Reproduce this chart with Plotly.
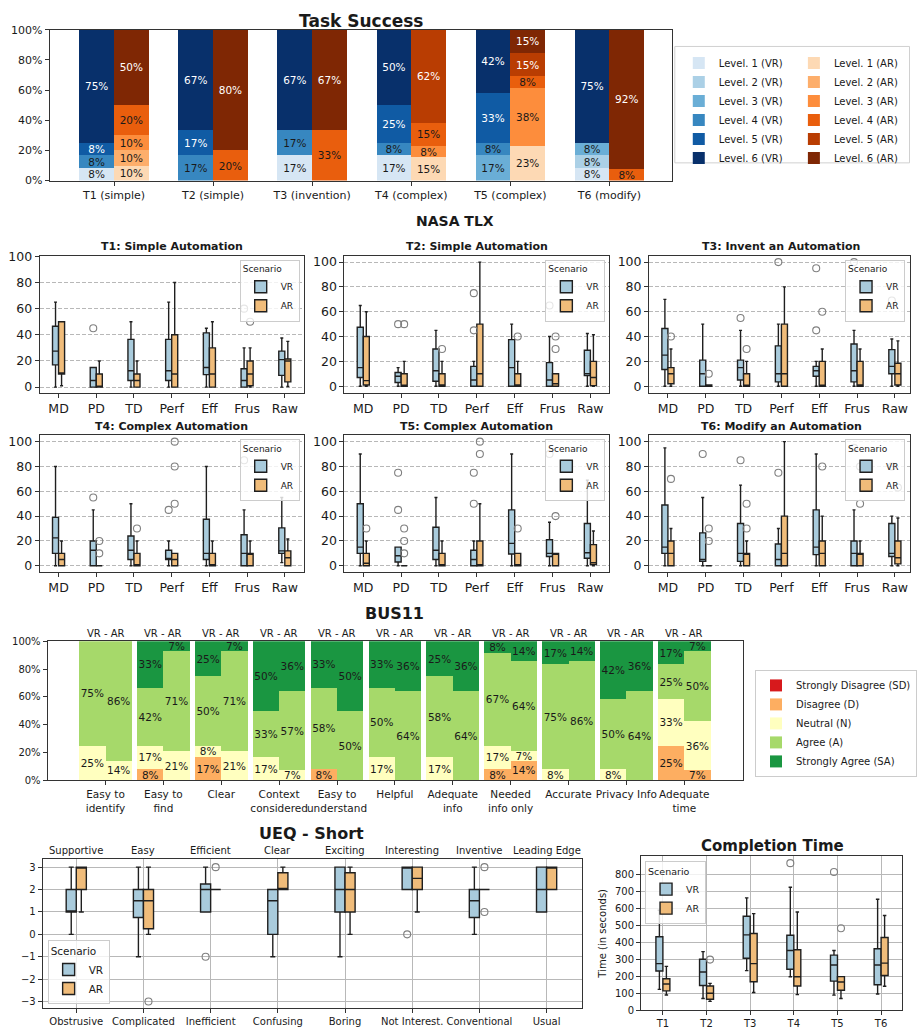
import plotly.graph_objects as go

W, H = 917, 1036
FONT = "DejaVu Sans"
TXT = "#1a1a1a"
SPINE = "#333333"

def px(x):
    return x / W

def py(y):
    return 1 - y / H

def dom_x(a, b):
    return [px(a), min(1.0, px(b))]

def dom_y(top, bottom):
    return [py(bottom), py(top)]

# ---------------- Task Success ----------------
ts_tasks = ["T1 (simple)", "T2 (simple)", "T3 (invention)", "T4 (complex)", "T5 (complex)", "T6 (modify)"]
ts_vr_total = [12, 12, 12, 12, 12, 12]
ts_ar_total = [10, 10, 3, 13, 13, 13]
# counts per level (Level 1 .. Level 6), one value per task
ts_vr_counts = [
    [1, 0, 2, 2, 0, 1],
    [0, 0, 0, 0, 0, 1],
    [0, 0, 0, 0, 2, 1],
    [1, 2, 2, 1, 1, 0],
    [1, 2, 0, 3, 4, 0],
    [9, 8, 8, 6, 5, 9],
]
ts_ar_counts = [
    [1, 0, 0, 2, 3, 0],
    [1, 0, 0, 0, 0, 0],
    [1, 0, 0, 1, 5, 0],
    [2, 2, 1, 2, 1, 1],
    [0, 0, 0, 8, 2, 0],
    [5, 8, 2, 0, 2, 12],
]
ts_blues = ["#d6e6f4", "#abd0e6", "#6aaed6", "#3787c0", "#105ba4", "#08306b"]
ts_oranges = ["#fdd9b4", "#fdae6b", "#fd8d3c", "#e95e0d", "#b93d02", "#7f2704"]
pct_ticks = [0, 20, 40, 60, 80, 100]

# ---------------- NASA TLX ----------------
tlx_cats = ["MD", "PD", "TD", "Perf", "Eff", "Frus", "Raw"]
tlx_titles = ["T1: Simple Automation", "T2: Simple Automation", "T3: Invent an Automation",
              "T4: Complex Automation", "T5: Complex Automation", "T6: Modify an Automation"]
tlx_vr_lo = [
    [0, 0, 0, 0, 0, 0, 0],
    [0, 0, 0, 0, 0, 0, 0],
    [0, 0, 0, 0, 0, 0, 0],
    [0, 0, 0, 0, 0, 0, 2.5],
    [0, 0, 0, 0, 0, 0, 0],
    [0, 0, 0, 0, 0, 0, 0],
]
tlx_vr_q1 = [
    [17, 0, 5, 5, 9.5, 0, 9],
    [7, 3, 4, 0, 0, 0, 8.5],
    [13.5, 0, 5, 3.5, 8, 3.5, 10],
    [10, 0, 5, 5, 5, 0, 10],
    [10, 3, 5, 0, 9.5, 7.5, 6],
    [10, 3.5, 3.5, 0, 9, 0, 7.5],
]
tlx_vr_med = [
    [27.5, 5, 12.5, 12.5, 15, 5, 21],
    [15, 8, 12.5, 5, 15, 5, 10],
    [25, 10, 15, 10, 12.5, 12.5, 16],
    [22.5, 12.5, 12.5, 5, 10, 10, 12],
    [15, 8, 12.5, 5, 18, 10, 10.5],
    [15, 5, 10, 5, 15, 10, 10],
]
tlx_vr_q3 = [
    [46.5, 15, 36.5, 36.5, 41.5, 14, 27.5],
    [47.5, 11, 30, 16, 37.5, 19, 29],
    [46.5, 21, 21, 32.5, 16, 34, 29.5],
    [39, 20, 24, 12.5, 37.5, 25, 30.5],
    [50, 15, 31, 12.5, 45, 21, 34],
    [49, 26.5, 34, 17.5, 45, 20, 34],
]
tlx_vr_hi = [
    [65, 15, 50, 65, 45, 30, 37.5],
    [65, 15, 45, 20, 50, 40, 42.5],
    [70, 50, 45, 50, 20, 45, 38],
    [80, 45, 50, 20, 80, 45, 55],
    [90, 15, 55, 20, 90, 35, 69],
    [95, 55, 65, 30, 90, 45, 40],
]
tlx_vr_out = [
    [[], [45], [], [], [], [60], []],
    [[], [50], [], [75, 45], [], [65], []],
    [[], [], [55], [100], [95, 45], [100], [69]],
    [[], [55], [], [45], [], [85], []],
    [[], [75, 45], [], [75, 50], [], [90], []],
    [[], [90], [85], [75], [], [95], [80]],
]
tlx_ar_lo = [
    [1, 0, 0, 0, 0, 0, 0.5],
    [0, 0, 0, 0, 0, 0, 0],
    [0, 0, 0, 0, 0, 0, 0],
    [0, 0, 0, 0, 0, 0, 0],
    [0, 0, 0, 0, 0, 0, 0],
    [0, 0, 0, 0, 0, 0, 0],
]
tlx_ar_q1 = [
    [10, 0, 0, 0, 0, 1, 4],
    [1, 0, 0, 0, 0, 0, 0.5],
    [2, 0, 0, 0, 0, 0, 1],
    [0, 0, 0, 0, 0, 0, 0],
    [0, 0, 0, 0, 0, 0, 1],
    [0, 0, 0, 0, 0, 0, 1.5],
]
tlx_ar_med = [
    [10, 0, 5, 10, 10, 10, 20],
    [4.5, 0, 1, 10, 1, 2, 7],
    [10, 0.5, 0, 10, 0, 1, 10],
    [5, 0, 0, 5, 0, 10, 6.5],
    [2, 0, 0, 0, 0, 10, 2.5],
    [10, 0, 10, 10, 10, 10, 6.5],
]
tlx_ar_q3 = [
    [50, 10, 10, 40, 30, 20, 21.5],
    [40, 10, 10, 50, 10, 10, 20],
    [15, 1, 10, 50, 20, 20, 18.5],
    [10, 0, 10, 10, 10, 10, 12],
    [10, 0, 10, 20, 10, 10, 17],
    [20, 0, 10, 40, 20, 10, 20],
]
tlx_ar_hi = [
    [50, 20, 20, 80, 50, 30, 35],
    [60, 20, 20, 100, 20, 10, 41.5],
    [30, 1, 20, 80, 30, 30, 36.5],
    [20, 0, 20, 10, 20, 20, 21.5],
    [20, 0, 20, 50, 10, 10, 28],
    [30, 0, 20, 100, 40, 20, 38.5],
]
tlx_ar_out = [
    [[], [], [], [], [], [50], []],
    [[], [50], [30], [], [40], [40, 30], []],
    [[40], [10], [30], [], [60], [], []],
    [[], [20, 10], [30], [100, 80, 50], [], [], []],
    [[30], [30, 20, 10], [], [100, 90], [30], [40], []],
    [[70], [30, 20], [50, 30], [], [80], [80, 50], [63]],
]

# ---------------- BUS11 ----------------
bus_items = ["Easy to<br>identify", "Easy to<br>find", "Clear", "Context<br>considered", "Easy to<br>understand",
             "Helpful", "Adequate<br>info", "Needed<br>info only", "Accurate", "Privacy Info", "Adequate<br>time"]
bus_levels = ["Strongly Disagree (SD)", "Disagree (D)", "Neutral (N)", "Agree (A)", "Strongly Agree (SA)"]
bus_colors = ["#d7191c", "#fdae61", "#ffffbf", "#a6d96a", "#1a9641"]
bus_vr_total = 12
bus_ar_total = 14
bus_vr_counts = [
    [0, 0, 0, 0, 0, 0, 0, 0, 0, 0, 0],
    [0, 1, 2, 0, 1, 0, 0, 1, 0, 0, 3],
    [3, 2, 1, 2, 0, 2, 2, 2, 1, 1, 4],
    [9, 5, 6, 4, 7, 6, 7, 8, 9, 6, 3],
    [0, 4, 3, 6, 4, 4, 3, 1, 2, 5, 2],
]
bus_ar_counts = [
    [0, 0, 0, 0, 0, 0, 0, 0, 0, 0, 0],
    [0, 0, 0, 0, 0, 0, 0, 2, 0, 0, 1],
    [2, 3, 3, 1, 0, 0, 0, 1, 0, 0, 5],
    [12, 10, 10, 8, 7, 9, 9, 9, 12, 9, 7],
    [0, 1, 1, 5, 7, 5, 5, 2, 2, 5, 1],
]

# ---------------- UEQ - Short ----------------
ueq_top = ["Supportive", "Easy", "Efficient", "Clear", "Exciting", "Interesting", "Inventive", "Leading Edge"]
ueq_bottom = ["Obstrusive", "Complicated", "Inefficient", "Confusing", "Boring", "Not Interest.", "Conventional", "Usual"]
ueq_vr_lo = [0, -1, 1, -1, -1, 2, 0, 1]
ueq_vr_q1 = [1, 0.75, 1, 0, 1, 2, 0.75, 1]
ueq_vr_med = [1, 1.5, 2, 1.5, 2, 3, 1.5, 2]
ueq_vr_q3 = [2, 2, 2.25, 2, 3, 3, 2, 3]
ueq_vr_hi = [3, 3, 3, 2, 3, 3, 3, 3]
ueq_vr_out = [[], [], [-1], [], [], [0], [], []]
ueq_ar_lo = [1, 0, 2, 2, 0, 1, 2, 2]
ueq_ar_q1 = [2, 0.25, 2, 2, 1, 2, 2, 2]
ueq_ar_med = [3, 1.5, 2, 2, 2, 2.5, 2, 3]
ueq_ar_q3 = [3, 2, 2, 2.75, 2.75, 3, 2, 3]
ueq_ar_hi = [3, 3, 2, 3, 3, 3, 2, 3]
ueq_ar_out = [[], [-3], [3], [], [], [], [3, 1], []]

# ---------------- Completion Time ----------------
ct_tasks = ["T1", "T2", "T3", "T4", "T5", "T6"]
ct_vr_lo = [123, 69, 233, 197, 89, 96]
ct_vr_q1 = [231, 146, 306, 241, 171, 150]
ct_vr_med = [274, 225, 443, 351, 266, 266]
ct_vr_q3 = [432, 300, 553, 441, 324, 362]
ct_vr_hi = [588, 345, 661, 723, 351, 653]
ct_vr_out = [[], [], [], [865], [813], []]
ct_ar_lo = [90, 52, 104, 92, 69, 141]
ct_ar_q1 = [114, 65, 168, 143, 118, 204]
ct_ar_med = [154, 100, 274, 197, 166, 277]
ct_ar_q3 = [185, 143, 451, 356, 198, 428]
ct_ar_hi = [258, 158, 568, 578, 198, 557]
ct_ar_out = [[], [298], [], [], [482], []]

VR_FILL = "#a9cbdc"
AR_FILL = "#f0bc7a"
BOX_LINE = "#1f1f1f"
OUT_COLOR = "#808080"

fig = go.Figure()
layout = {}
annotations = []
shapes = []


def pct_text(vals):
    return [f"{v:.0f}%" if v > 0 else "" for v in vals]


# ---------- Task Success bars ----------
ts_w = 0.35
for k in range(6):
    vals = [c / n * 100 for c, n in zip(ts_vr_counts[k], ts_vr_total)]
    fig.add_trace(go.Bar(
        x=[i - ts_w / 2 for i in range(len(ts_tasks))], y=vals, width=ts_w,
        marker=dict(color=ts_blues[k], line=dict(width=0)),
        name=f"Level. {k + 1} (VR)", text=pct_text(vals), textposition="inside",
        insidetextanchor="middle", textangle=0, constraintext="none",
        textfont=dict(size=10.5, color="white" if k >= 4 else TXT),
        legend="legend", xaxis="x", yaxis="y", hoverinfo="skip"))
for k in range(6):
    vals = [c / n * 100 for c, n in zip(ts_ar_counts[k], ts_ar_total)]
    fig.add_trace(go.Bar(
        x=[i + ts_w / 2 for i in range(len(ts_tasks))], y=vals, width=ts_w,
        marker=dict(color=ts_oranges[k], line=dict(width=0)),
        name=f"Level. {k + 1} (AR)", text=pct_text(vals), textposition="inside",
        insidetextanchor="middle", textangle=0, constraintext="none",
        textfont=dict(size=10.5, color="white" if k >= 4 else TXT),
        legend="legend2", xaxis="x", yaxis="y", hoverinfo="skip"))

axis_common = dict(showline=True, linecolor=SPINE, linewidth=1, mirror=True, ticks="outside",
                   ticklen=4, tickcolor=SPINE, zeroline=False, showgrid=False, tickangle=0,
                   tickfont=dict(size=11, color=TXT, family=FONT))

layout["xaxis"] = dict(axis_common, domain=dom_x(50, 677), range=[-0.65, 5.63], anchor="y",
                       tickvals=list(range(len(ts_tasks))), ticktext=ts_tasks)
layout["yaxis"] = dict(axis_common, domain=dom_y(23, 176), range=[0, 100], anchor="x",
                       tickvals=pct_ticks, ticktext=[f"{v}%" for v in pct_ticks])
annotations.append(dict(text="<b>Task Success</b>", x=px(364), y=py(14), xref="paper", yref="paper",
                        showarrow=False, font=dict(size=17, color=TXT), xanchor="center", yanchor="middle"))
layout["legend"] = dict(x=px(684), y=py(42), xanchor="left", yanchor="top", traceorder="normal",
                        font=dict(size=10, color=TXT), bgcolor="rgba(0,0,0,0)", borderwidth=0,
                        tracegroupgap=0, itemwidth=30)
layout["legend2"] = dict(x=px(800), y=py(42), xanchor="left", yanchor="top", traceorder="normal",
                         font=dict(size=10, color=TXT), bgcolor="rgba(0,0,0,0)", borderwidth=0,
                         tracegroupgap=0, itemwidth=30)
shapes.append(dict(type="rect", xref="paper", yref="paper", x0=px(680), x1=px(916.5), y0=py(158), y1=py(40),
                   line=dict(color="#d0d0d0", width=1), fillcolor="rgba(255,255,255,0)", layer="above"))


def add_boxes(xa, ya, legend_name, n, vr_stats, ar_stats, vr_out, ar_out, w, showlegend=True):
    for sname, fill, stats, outs, sign in (("VR", VR_FILL, vr_stats, vr_out, -1), ("AR", AR_FILL, ar_stats, ar_out, 1)):
        lo, q1, med, q3, hi = stats
        pos = [i + sign * w / 2 for i in range(n)]
        fig.add_trace(go.Box(
            x=pos, lowerfence=lo, q1=q1, median=med, q3=q3, upperfence=hi,
            width=w, orientation="v", fillcolor=fill, line=dict(color=BOX_LINE, width=1.4),
            whiskerwidth=0.5, boxpoints=False, name=sname, legend=legend_name,
            showlegend=showlegend, xaxis=xa, yaxis=ya, hoverinfo="skip"))
        ox, oy = [], []
        for i, vals in enumerate(outs):
            for v in vals:
                ox.append(pos[i])
                oy.append(v)
        fig.add_trace(go.Scatter(
            x=ox, y=oy, mode="markers", showlegend=False, xaxis=xa, yaxis=ya, hoverinfo="skip",
            marker=dict(symbol="circle-open", size=7, color=OUT_COLOR, line=dict(width=1.1, color=OUT_COLOR))))


# ---------- NASA TLX ----------
tlx_cols = [(40, 306), (347, 614), (654, 917)]
tlx_xmax = [6.5, 6.5, 6.4]
tlx_rows = [(252, 391), (434, 573)]
tlx_leg_right = [302, 610, 912]
for t in range(6):
    r, c = divmod(t, 3)
    ax = t + 2
    xa, ya = f"x{ax}", f"y{ax}"
    lname = f"legend{t + 3}"
    add_boxes(xa, ya, lname, len(tlx_cats),
              (tlx_vr_lo[t], tlx_vr_q1[t], tlx_vr_med[t], tlx_vr_q3[t], tlx_vr_hi[t]),
              (tlx_ar_lo[t], tlx_ar_q1[t], tlx_ar_med[t], tlx_ar_q3[t], tlx_ar_hi[t]),
              tlx_vr_out[t], tlx_ar_out[t], 0.16)
    top, bot = tlx_rows[r]
    left, right = tlx_cols[c]
    layout[f"xaxis{ax}"] = dict(axis_common, domain=dom_x(left, right), range=[-0.5, tlx_xmax[c]], anchor=ya,
                                tickvals=list(range(len(tlx_cats))), ticktext=tlx_cats,
                                tickfont=dict(size=12.5, color=TXT, family=FONT))
    yr = [-4.3, 100.6] if t == 0 else [-5.25, 105.25]
    layout[f"yaxis{ax}"] = dict(axis_common, domain=dom_y(top, bot), range=yr, anchor=xa,
                                tickvals=pct_ticks, showgrid=True, gridcolor="#b8b8b8",
                                griddash="4px,2px", gridwidth=0.8,
                                tickfont=dict(size=12.5, color=TXT, family=FONT))
    annotations.append(dict(text=f"<b>{tlx_titles[t]}</b>", x=px((left + min(right, 921) + (4 if c == 2 else 0)) / 2),
                            y=py(top - 9), xref="paper", yref="paper", showarrow=False,
                            font=dict(size=11, color=TXT), xanchor="center", yanchor="middle"))
    layout[lname] = dict(x=px(tlx_leg_right[c]), y=py(top + 4), xanchor="right", yanchor="top",
                         title=dict(text="Scenario", font=dict(size=9, color=TXT), side="top"),
                         font=dict(size=9, color=TXT), bgcolor="rgba(255,255,255,0.8)",
                         bordercolor="#cccccc", borderwidth=1, tracegroupgap=0, itemwidth=30)
annotations.append(dict(text="<b>NASA TLX</b>", x=px(458), y=py(217), xref="paper", yref="paper",
                        showarrow=False, font=dict(size=14, color=TXT), xanchor="center", yanchor="middle"))

# ---------- BUS11 ----------
bus_w = 0.455
for k in range(5):
    vals = [c / bus_vr_total * 100 for c in bus_vr_counts[k]]
    fig.add_trace(go.Bar(
        x=[i - bus_w / 2 for i in range(len(bus_items))], y=vals, width=bus_w,
        marker=dict(color=bus_colors[k], line=dict(width=0)), name=bus_levels[k],
        text=pct_text(vals), textposition="inside", insidetextanchor="middle", textangle=0,
        constraintext="none", textfont=dict(size=10.5, color=TXT),
        legend="legend9", xaxis="x8", yaxis="y8", hoverinfo="skip"))
for k in range(5):
    vals = [c / bus_ar_total * 100 for c in bus_ar_counts[k]]
    fig.add_trace(go.Bar(
        x=[i + bus_w / 2 for i in range(len(bus_items))], y=vals, width=bus_w,
        marker=dict(color=bus_colors[k], line=dict(width=0)), name=bus_levels[k],
        text=pct_text(vals), textposition="inside", insidetextanchor="middle", textangle=0,
        constraintext="none", textfont=dict(size=10.5, color=TXT), showlegend=False,
        legend="legend9", xaxis="x8", yaxis="y8", hoverinfo="skip"))
layout["xaxis8"] = dict(axis_common, domain=dom_x(48, 749), range=[-1.0, 11.02], anchor="y8",
                        tickvals=list(range(len(bus_items))), ticktext=bus_items,
                        tickfont=dict(size=10.5, color=TXT, family=FONT))
layout["yaxis8"] = dict(axis_common, domain=dom_y(643, 784), range=[0, 100], anchor="x8",
                        tickvals=pct_ticks, ticktext=[f"{v}%" for v in pct_ticks],
                        tickfont=dict(size=10, color=TXT, family=FONT))
for i in range(len(bus_items)):
    annotations.append(dict(text="VR - AR", x=i, xref="x8", y=py(635), yref="paper", showarrow=False,
                            font=dict(size=10, color=TXT), xanchor="center", yanchor="middle"))
annotations.append(dict(text="<b>BUS11</b>", x=px(398), y=py(615), xref="paper", yref="paper",
                        showarrow=False, font=dict(size=16, color=TXT), xanchor="center", yanchor="middle"))
layout["legend9"] = dict(x=px(761), y=py(672), xanchor="left", yanchor="top", traceorder="normal",
                         font=dict(size=10, color=TXT), bgcolor="rgba(255,255,255,0.8)",
                         bordercolor="#cccccc", borderwidth=1, tracegroupgap=0, itemwidth=30)

# ---------- UEQ ----------
add_boxes("x9", "y9", "legend10", len(ueq_top),
          (ueq_vr_lo, ueq_vr_q1, ueq_vr_med, ueq_vr_q3, ueq_vr_hi),
          (ueq_ar_lo, ueq_ar_q1, ueq_ar_med, ueq_ar_q3, ueq_ar_hi),
          ueq_vr_out, ueq_ar_out, 0.15)
grid_solid = dict(showgrid=True, gridcolor="#b8b8b8", gridwidth=1)
layout["xaxis9"] = dict(axis_common, **grid_solid, domain=dom_x(43, 586), range=[-0.5, 7.52], anchor="y9",
                        tickvals=list(range(len(ueq_bottom))), ticktext=ueq_bottom,
                        tickfont=dict(size=10, color=TXT, family=FONT))
layout["yaxis9"] = dict(axis_common, **grid_solid, domain=dom_y(864, 1015), range=[-3.3, 3.35], anchor="x9",
                        tickvals=[-3, -2, -1, 0, 1, 2, 3],
                        tickfont=dict(size=10, color=TXT, family=FONT))
for i, lab in enumerate(ueq_top):
    annotations.append(dict(text=lab, x=i, xref="x9", y=py(855), yref="paper", showarrow=False,
                            font=dict(size=10, color=TXT), xanchor="center", yanchor="middle"))
annotations.append(dict(text="<b>UEQ - Short</b>", x=px(314), y=py(838), xref="paper", yref="paper",
                        showarrow=False, font=dict(size=16, color=TXT), xanchor="center", yanchor="middle"))
layout["legend10"] = dict(x=px(48), y=py(1011), xanchor="left", yanchor="bottom",
                          title=dict(text="Scenario", font=dict(size=10.5, color=TXT), side="top"),
                          font=dict(size=10.5, color=TXT), bgcolor="rgba(255,255,255,0.8)",
                          bordercolor="#cccccc", borderwidth=1, tracegroupgap=0, itemwidth=30)

# ---------- Completion Time ----------
add_boxes("x10", "y10", "legend11", len(ct_tasks),
          (ct_vr_lo, ct_vr_q1, ct_vr_med, ct_vr_q3, ct_vr_hi),
          (ct_ar_lo, ct_ar_q1, ct_ar_med, ct_ar_q3, ct_ar_hi),
          ct_vr_out, ct_ar_out, 0.16)
layout["xaxis10"] = dict(axis_common, **grid_solid, domain=dom_x(646, 909), range=[-0.5, 5.48], anchor="y10",
                         tickvals=list(range(len(ct_tasks))), ticktext=ct_tasks,
                         tickfont=dict(size=10, color=TXT, family=FONT))
layout["yaxis10"] = dict(axis_common, **grid_solid, domain=dom_y(861, 1017), range=[0, 905], anchor="x10",
                         tickvals=[0, 100, 200, 300, 400, 500, 600, 700, 800],
                         tickfont=dict(size=10, color=TXT, family=FONT),
                         title=dict(text="Time (in seconds)", font=dict(size=10, color=TXT), standoff=6))
annotations.append(dict(text="<b>Completion Time</b>", x=px(778), y=py(850), xref="paper", yref="paper",
                        showarrow=False, font=dict(size=15, color=TXT), xanchor="center", yanchor="middle"))
layout["legend11"] = dict(x=px(650), y=py(866), xanchor="left", yanchor="top",
                          title=dict(text="Scenario", font=dict(size=9.5, color=TXT), side="top"),
                          font=dict(size=9.5, color=TXT), bgcolor="rgba(255,255,255,0.8)",
                          bordercolor="#cccccc", borderwidth=1, tracegroupgap=0, itemwidth=30)

fig.update_layout(
    width=W, height=H, autosize=False,
    margin=dict(l=0, r=0, t=0, b=0, pad=0),
    paper_bgcolor="white", plot_bgcolor="white",
    font=dict(family=FONT, color=TXT, size=10),
    barmode="stack", boxmode="overlay",
    uniformtext=dict(minsize=10.5, mode="show"),
    annotations=annotations, shapes=shapes,
    **layout,
)

fig.write_html("out.html", config={"displayModeBar": False},
               post_script="document.body.style.margin='0';")
